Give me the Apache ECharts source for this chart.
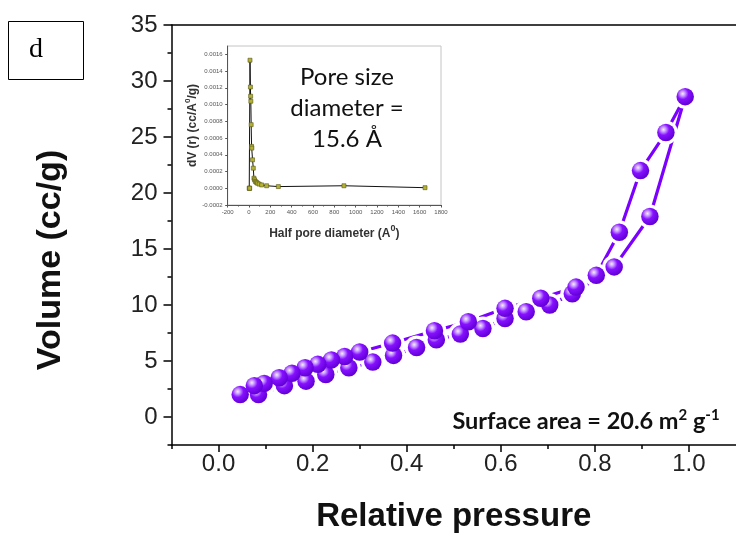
<!DOCTYPE html>
<html>
<head>
<meta charset="utf-8">
<script src="https://cdn.jsdelivr.net/npm/echarts@6/dist/echarts.min.js"></script>
<style>
  html, body { margin: 0; padding: 0; background: #fff; }
  #chart { width: 736px; height: 538px; }
</style>
</head>
<body>
<div id="chart"></div>
<script>
// N2 sorption isotherm: adsorption (lower) and desorption (upper) branches
const adsX = [0.046, 0.085, 0.140, 0.186, 0.228, 0.277, 0.328, 0.372, 0.421, 0.463, 0.514, 0.562, 0.609, 0.654, 0.704, 0.752, 0.841, 0.917, 0.992];
const adsY = [2.0, 2.0, 2.8, 3.2, 3.8, 4.4, 4.9, 5.5, 6.2, 6.9, 7.4, 7.9, 8.8, 9.4, 10.0, 11.0, 13.4, 17.9, 28.6];
const desX = [0.992, 0.951, 0.897, 0.852, 0.803, 0.760, 0.685, 0.609, 0.531, 0.459, 0.370, 0.300, 0.268, 0.240, 0.211, 0.184, 0.156, 0.129, 0.097, 0.076];
const desY = [28.6, 25.4, 22.0, 16.5, 12.65, 11.6, 10.6, 9.7, 8.5, 7.7, 6.6, 5.8, 5.4, 5.1, 4.7, 4.4, 3.9, 3.5, 3.0, 2.8];

// Main axis ticks
const xTicks = [0, 0.2, 0.4, 0.6, 0.8, 1.0];
const xMinorTicks = [-0.1, 0.1, 0.3, 0.5, 0.7, 0.9];
const yTicks = [0, 5, 10, 15, 20, 25, 30, 35];
const yMinorTicks = [-2.5, 2.5, 7.5, 12.5, 17.5, 22.5, 27.5, 32.5];

// Pore size distribution (inset)
const psdX = [2, 4, 6, 9, 13, 15, 17, 20, 24, 26, 33, 40, 46, 52, 60, 70, 80, 95, 118, 165, 275, 890, 1650];
const psdY = [0, 0, 0, 0.00153, 0.00121, 0.00110, 0.00104, 0.00076, 0.00050, 0.00048, 0.00034, 0.00024, 0.00012, 0.00010, 0.00008, 0.00007, 0.00006, 0.00005, 0.00004, 0.00003, 0.00002, 0.00003, 0.000007];
const psdYTicks = [-0.0002, 0, 0.0002, 0.0004, 0.0006, 0.0008, 0.0010, 0.0012, 0.0014, 0.0016];

const pair = (xs, ys) => xs.map((x, i) => [x, ys[i]]);
const adsData = pair(adsX, adsY);
const desData = pair(desX, desY);
const allPts = adsData.concat(desData.slice(1));

const purple = '#7c00ff';
const sphere = {
  type: 'radial', x: 0.36, y: 0.33, r: 0.68,
  colorStops: [
    { offset: 0, color: '#f6ecff' },
    { offset: 0.2, color: '#c99bff' },
    { offset: 0.48, color: '#8610ff' },
    { offset: 1, color: '#6200d6' }
  ]
};
const sans = 'Liberation Sans';

const chart = echarts.init(document.getElementById('chart'), null, { renderer: 'canvas' });

chart.setOption({
  animation: false,
  backgroundColor: '#fff',
  grid: [
    { left: 171.5, top: 25, width: 568, height: 423, containLabel: false },
    { left: 227.7, top: 46, width: 213.3, height: 159, show: true, borderColor: '#c4c4c4', borderWidth: 1, backgroundColor: 'transparent' }
  ],
  xAxis: [
    {
      type: 'value', gridIndex: 0, position: 'bottom', min: -0.1, max: 1.1,
      axisLine: { onZero: false, lineStyle: { color: '#000', width: 1.5 } },
      axisTick: { customValues: xTicks, length: 7, lineStyle: { color: '#000', width: 1.5 } },
      axisLabel: { customValues: xTicks, margin: 7, fontSize: 24, color: '#222', fontFamily: sans,
        formatter: v => v.toFixed(1) },
      splitLine: { show: false },
      name: 'Relative pressure', nameLocation: 'middle', nameGap: 55,
      nameTextStyle: { fontSize: 33, fontWeight: 'bold', color: '#111', fontFamily: sans }
    },
    {
      type: 'value', gridIndex: 0, position: 'bottom', min: -0.1, max: 1.1,
      axisLine: { show: false, onZero: false },
      axisTick: { customValues: xMinorTicks, length: 4, lineStyle: { color: '#000', width: 1.5 } },
      axisLabel: { show: false }, splitLine: { show: false }
    },
    {
      type: 'value', gridIndex: 0, position: 'top', min: -0.1, max: 1.1,
      axisLine: { onZero: false, lineStyle: { color: '#000', width: 1.5 } },
      axisTick: { show: false }, axisLabel: { show: false }, splitLine: { show: false }
    },
    {
      type: 'value', gridIndex: 1, position: 'bottom', min: -200, max: 1800, interval: 200,
      axisLine: { onZero: false, lineStyle: { color: '#555', width: 1 } },
      axisTick: { length: 2.5, lineStyle: { color: '#555' } },
      minorTick: { show: true, splitNumber: 2, length: 1.5, lineStyle: { color: '#555' } },
      axisLabel: { margin: 4, fontSize: 6, color: '#555', fontFamily: sans, formatter: v => String(v) },
      splitLine: { show: false },
      name: '{t|Half pore diameter (A}{s|0}{t|)}', nameLocation: 'middle', nameGap: 19,
      nameTextStyle: { rich: {
        t: { fontSize: 12, fontWeight: 'bold', color: '#333', fontFamily: sans, lineHeight: 16, verticalAlign: 'bottom' },
        s: { fontSize: 9, fontWeight: 'bold', color: '#333', fontFamily: sans, lineHeight: 9, verticalAlign: 'top' }
      } }
    }
  ],
  yAxis: [
    {
      type: 'value', gridIndex: 0, position: 'left', min: -2.5, max: 35,
      axisLine: { onZero: false, lineStyle: { color: '#000', width: 1.5 } },
      axisTick: { customValues: yTicks, length: 8, lineStyle: { color: '#000', width: 1.5 } },
      axisLabel: { customValues: yTicks, margin: 14, fontSize: 24, color: '#222', fontFamily: sans },
      splitLine: { show: false }
    },
    {
      type: 'value', gridIndex: 0, position: 'left', min: -2.5, max: 35,
      axisLine: { show: false, onZero: false },
      axisTick: { customValues: yMinorTicks, length: 4, lineStyle: { color: '#000', width: 1.5 } },
      axisLabel: { show: false }, splitLine: { show: false }
    },
    {
      type: 'value', gridIndex: 1, position: 'left', min: -0.0002, max: 0.0017,
      axisLine: { onZero: false, lineStyle: { color: '#555', width: 1 } },
      axisTick: { customValues: psdYTicks, length: 2.5, lineStyle: { color: '#555' } },
      axisLabel: { customValues: psdYTicks, margin: 5, fontSize: 6, color: '#555', fontFamily: sans,
        formatter: v => v.toFixed(4) },
      splitLine: { show: false },
      name: '{t|dV (r) (cc/A}{s|0}{t|/g)}', nameLocation: 'middle', nameGap: 26,
      nameTextStyle: { rich: {
        t: { fontSize: 12, fontWeight: 'bold', color: '#333', fontFamily: sans, lineHeight: 15, verticalAlign: 'bottom' },
        s: { fontSize: 8, fontWeight: 'bold', color: '#333', fontFamily: sans, lineHeight: 8, verticalAlign: 'top' }
      } }
    }
  ],
  series: [
    { type: 'line', xAxisIndex: 0, yAxisIndex: 0, data: adsData, showSymbol: false, z: 2,
      lineStyle: { color: purple, width: 3.2 } },
    { type: 'line', xAxisIndex: 0, yAxisIndex: 0, data: desData, showSymbol: false, z: 2,
      lineStyle: { color: purple, width: 3.2 } },
    // white halos cut the connecting lines short of each sphere
    { type: 'scatter', xAxisIndex: 0, yAxisIndex: 0, data: allPts, symbolSize: 24, z: 3,
      itemStyle: { color: '#fff', opacity: 1 }, silent: true },
    { type: 'scatter', xAxisIndex: 0, yAxisIndex: 0, data: allPts, symbolSize: 17.5, z: 4,
      itemStyle: { color: sphere, opacity: 1 } },
    { type: 'line', xAxisIndex: 3, yAxisIndex: 2, data: pair(psdX, psdY), z: 5,
      symbol: 'rect', symbolSize: 4, showAllSymbol: true,
      lineStyle: { color: '#111', width: 1 },
      itemStyle: { color: '#b3b232', borderColor: '#55551a', borderWidth: 0.6 } }
  ],
  graphic: [
    { type: 'rect', left: 8, top: 21, shape: { width: 75, height: 58 },
      style: { fill: '#fff', stroke: '#000', lineWidth: 1 }, z: 10 },
    { type: 'text', x: 36, y: 50, z: 11,
      style: { text: 'd', font: '28px "Liberation Serif", "Times New Roman", serif', fill: '#000',
        textAlign: 'center', textVerticalAlign: 'middle' } },
    // y-axis title of the isotherm
    { type: 'text', x: 51, y: 260, rotation: Math.PI / 2, z: 11,
      style: { text: 'Volume (cc/g)', font: 'bold 34px "Liberation Sans", Arial, sans-serif', fill: '#111',
        textAlign: 'center', textVerticalAlign: 'middle' } },
    { type: 'text', x: 347, y: 108, z: 11,
      style: { text: 'Pore size\ndiameter =\n15.6 Å', font: '24px Lato, "Open Sans", sans-serif', fill: '#111',
        lineHeight: 31, textAlign: 'center', textVerticalAlign: 'middle' } },
    { type: 'text', x: 586, y: 421, z: 11,
      style: {
        text: '{t|Surface area = 20.6 m}{s|2}{t| g}{s|-1}',
        textAlign: 'center', textVerticalAlign: 'middle',
        rich: {
          t: { font: 'bold 23.5px Lato, "Open Sans", sans-serif', fill: '#111', lineHeight: 26 },
          s: { font: 'bold 15px Lato, "Open Sans", sans-serif', fill: '#111', verticalAlign: 'top', lineHeight: 15 }
        }
      } }
  ]
});
</script>
</body>
</html>
